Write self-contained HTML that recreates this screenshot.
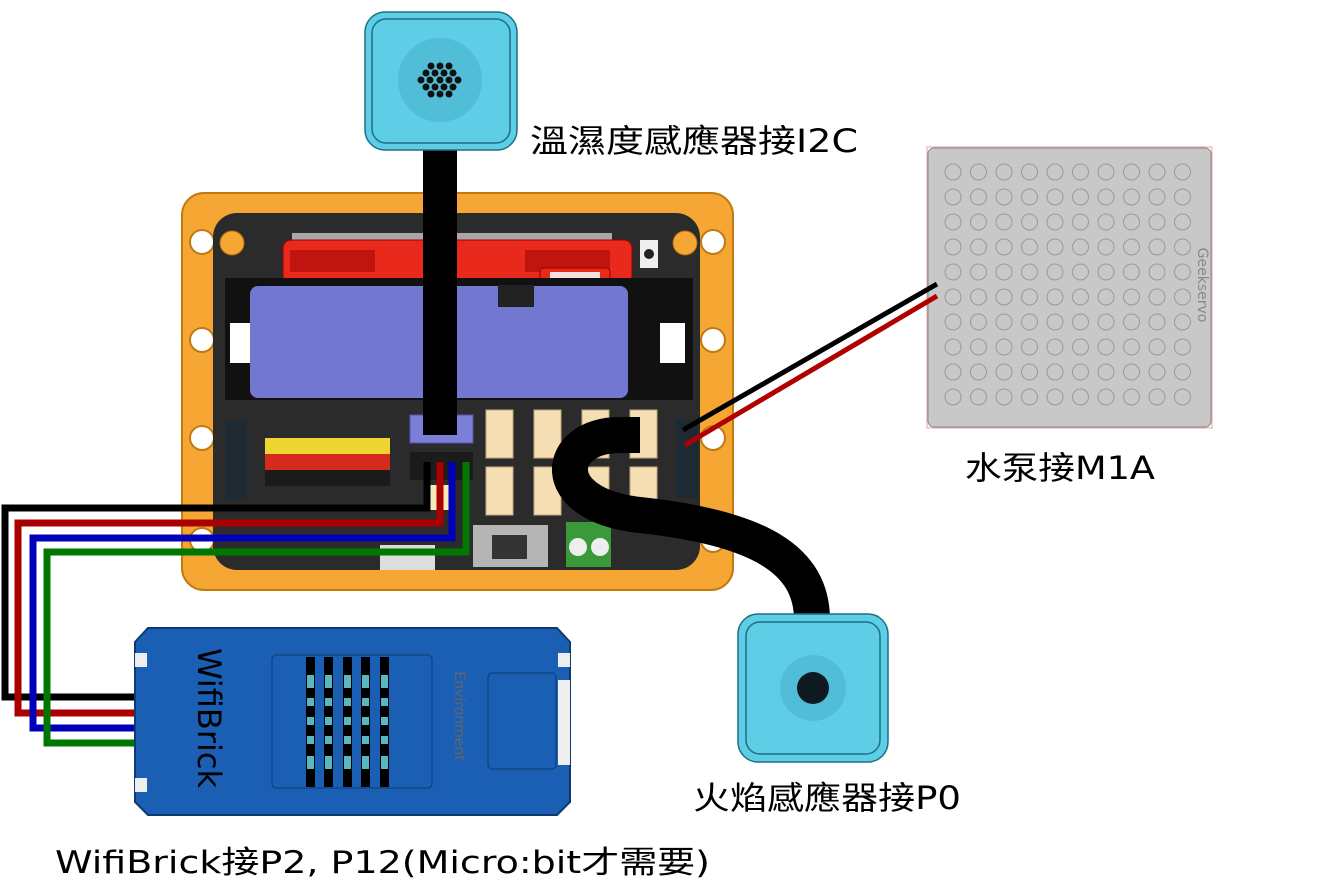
<!DOCTYPE html>
<html><head><meta charset="utf-8"><style>
html,body{margin:0;padding:0;background:#fff;}
svg{display:block;}
text{font-family:"DejaVu Sans","Liberation Sans","Noto Sans CJK TC",sans-serif;}
</style></head><body>
<svg width="1336" height="883" viewBox="0 0 1336 883" xmlns="http://www.w3.org/2000/svg">
<defs>
<pattern id="dots" x="940" y="159" width="25.5" height="25" patternUnits="userSpaceOnUse">
<circle cx="13" cy="13" r="8" fill="none" stroke="#999" stroke-width="1"/>
</pattern>
</defs>

<rect x="182" y="193" width="551" height="397" rx="22" fill="#f6a733" stroke="#c27a10" stroke-width="2"/>
<g fill="#fff" stroke="#c27a10" stroke-width="2">
<circle cx="202" cy="242" r="12"/><circle cx="202" cy="340" r="12"/><circle cx="202" cy="438" r="12"/><circle cx="202" cy="540" r="12"/>
<circle cx="713" cy="242" r="12"/><circle cx="713" cy="340" r="12"/><circle cx="713" cy="438" r="12"/><circle cx="713" cy="540" r="12"/>
</g>
<rect x="213" y="213" width="487" height="357" rx="24" fill="#2b2b2b"/>
<circle cx="232" cy="243" r="12" fill="#f6a733" stroke="#b06f10"/>
<circle cx="685" cy="243" r="12" fill="#f6a733" stroke="#b06f10"/>
<rect x="292" y="233" width="320" height="8" fill="#ddd" opacity="0.7"/>
<rect x="283" y="240" width="349" height="43" rx="8" fill="#e8291c" stroke="#900" stroke-width="1"/>
<rect x="290" y="250" width="85" height="22" fill="#c0150e"/>
<rect x="525" y="250" width="85" height="22" fill="#c0150e"/>
<rect x="540" y="268" width="70" height="42" rx="4" fill="#e8291c" stroke="#900"/>
<rect x="550" y="272" width="50" height="28" fill="#f4e0e0"/>
<rect x="640" y="240" width="18" height="28" fill="#eee"/><circle cx="649" cy="254" r="5" fill="#222"/>
<rect x="225" y="278" width="468" height="122" fill="#111"/>
<rect x="230" y="323" width="25" height="40" fill="#fff"/>
<rect x="660" y="323" width="25" height="40" fill="#fff"/>
<rect x="250" y="286" width="378" height="112" rx="8" fill="#7277d0"/>
<rect x="498" y="285" width="36" height="22" fill="#222"/>
<rect x="225" y="420" width="22" height="80" fill="#1e2a33"/>
<rect x="265" y="438" width="125" height="16" fill="#f0d430"/>
<rect x="265" y="454" width="125" height="16" fill="#d62a1e"/>
<rect x="265" y="470" width="125" height="16" fill="#1b1b1b"/>
<rect x="410" y="415" width="63" height="28" fill="#7b7fd8" stroke="#5055b0"/>
<rect x="410" y="452" width="63" height="28" fill="#1b1b1b"/>
<rect x="425" y="485" width="30" height="25" fill="#f6eab8"/>
<g fill="#f5ddb4" stroke="#c9a97a">
<rect x="486" y="410" width="27" height="48"/><rect x="534" y="410" width="27" height="48"/><rect x="582" y="410" width="27" height="48"/><rect x="630" y="410" width="27" height="48"/>
<rect x="486" y="467" width="27" height="48"/><rect x="534" y="467" width="27" height="48"/><rect x="582" y="467" width="27" height="48"/><rect x="630" y="467" width="27" height="48"/>
</g>
<rect x="676" y="420" width="22" height="78" fill="#1e2a33"/>
<rect x="473" y="525" width="75" height="42" fill="#b5b5b5"/>
<rect x="492" y="535" width="35" height="24" fill="#333"/>
<rect x="566" y="522" width="45" height="45" fill="#3a9a3a"/>
<circle cx="578" cy="547" r="9" fill="#eee"/><circle cx="600" cy="547" r="9" fill="#eee"/>
<rect x="380" y="545" width="55" height="25" fill="#ddd"/>

<rect x="423" y="140" width="34" height="295" fill="#000"/>
<rect x="365" y="12" width="152" height="138" rx="20" fill="#5ecde6" stroke="#1f6f84" stroke-width="1.5"/>
<rect x="372" y="19" width="138" height="124" rx="14" fill="none" stroke="#1f6f84" stroke-width="1.5"/>
<circle cx="440" cy="80" r="42" fill="#52bdd6"/>
<g fill="#111">
<circle cx="431" cy="66" r="3.5"/><circle cx="440" cy="66" r="3.5"/><circle cx="449" cy="66" r="3.5"/>
<circle cx="426" cy="73" r="3.5"/><circle cx="435" cy="73" r="3.5"/><circle cx="444" cy="73" r="3.5"/><circle cx="453" cy="73" r="3.5"/>
<circle cx="421" cy="80" r="3.5"/><circle cx="430" cy="80" r="3.5"/><circle cx="440" cy="80" r="3.5"/><circle cx="449" cy="80" r="3.5"/><circle cx="458" cy="80" r="3.5"/>
<circle cx="426" cy="87" r="3.5"/><circle cx="435" cy="87" r="3.5"/><circle cx="444" cy="87" r="3.5"/><circle cx="453" cy="87" r="3.5"/>
<circle cx="431" cy="94" r="3.5"/><circle cx="440" cy="94" r="3.5"/><circle cx="449" cy="94" r="3.5"/>
</g>
<text x="530" y="152" font-size="32" fill="#000" textLength="328" lengthAdjust="spacingAndGlyphs">溫濕度感應器接I2C</text>

<rect x="927" y="147" width="285" height="281" fill="none" stroke="#e8a0a0"/>
<rect x="928" y="148" width="283" height="279" rx="6" fill="#c8c8c8" stroke="#888"/>
<rect x="940" y="159" width="255" height="250" fill="url(#dots)"/>
<text x="1198" y="285" font-size="14" fill="#888" transform="rotate(90 1198 285)" text-anchor="middle">Geekservo</text>
<line x1="937" y1="284" x2="683" y2="430" stroke="#000" stroke-width="5"/>
<line x1="937" y1="296" x2="685" y2="445" stroke="#b00000" stroke-width="5"/>
<text x="965" y="479" font-size="32" fill="#000" textLength="190" lengthAdjust="spacingAndGlyphs">水泵接M1A</text>

<path d="M640,435 L620,435 C555,435 545,505 640,515 C760,528 812,560 812,620" fill="none" stroke="#000" stroke-width="36"/>
<rect x="738" y="614" width="150" height="148" rx="20" fill="#5ecde6" stroke="#1f6f84" stroke-width="1.5"/>
<rect x="746" y="622" width="134" height="132" rx="14" fill="none" stroke="#1f6f84" stroke-width="1.5"/>
<circle cx="813" cy="688" r="33" fill="#52bdd6"/>
<circle cx="813" cy="688" r="16" fill="#0e1a22"/>
<text x="693" y="809" font-size="32" fill="#000" textLength="268" lengthAdjust="spacingAndGlyphs">火焰感應器接P0</text>

<polyline points="427,462 427,508 5,508 5,697 135,697" fill="none" stroke="#000" stroke-width="7"/>
<polyline points="440,462 440,523 18,523 18,713 135,713" fill="none" stroke="#aa0000" stroke-width="7"/>
<polyline points="452,462 452,538 33,538 33,728 135,728" fill="none" stroke="#0000bb" stroke-width="7"/>
<polyline points="466,462 466,552 47,552 47,743 135,743" fill="none" stroke="#007700" stroke-width="7"/>

<path d="M148,628 L557,628 L570,642 L570,802 L557,815 L148,815 L135,802 L135,642 Z" fill="#1a5fb4" stroke="#0d3a70" stroke-width="2"/>
<rect x="135" y="653" width="12" height="14" fill="#eee"/>
<rect x="135" y="778" width="12" height="14" fill="#eee"/>
<rect x="558" y="653" width="12" height="14" fill="#eee"/>
<rect x="558" y="680" width="12" height="85" fill="#eee"/>
<rect x="272" y="655" width="160" height="133" rx="4" fill="none" stroke="#0d3a70"/>
<rect x="488" y="673" width="68" height="96" rx="4" fill="none" stroke="#0d3a70"/>
<g fill="#000">
<rect x="306" y="657" width="9" height="130"/><rect x="324" y="657" width="9" height="130"/><rect x="343" y="657" width="9" height="130"/><rect x="361" y="657" width="9" height="130"/><rect x="380" y="657" width="9" height="130"/>
</g>
<g fill="#5ab7c0">
<rect x="307" y="675" width="7" height="13"/><rect x="325" y="675" width="7" height="13"/><rect x="344" y="675" width="7" height="13"/><rect x="362" y="675" width="7" height="13"/><rect x="381" y="675" width="7" height="13"/>
<rect x="307" y="698" width="7" height="8"/><rect x="325" y="698" width="7" height="8"/><rect x="344" y="698" width="7" height="8"/><rect x="362" y="698" width="7" height="8"/><rect x="381" y="698" width="7" height="8"/>
<rect x="307" y="717" width="7" height="8"/><rect x="325" y="717" width="7" height="8"/><rect x="344" y="717" width="7" height="8"/><rect x="362" y="717" width="7" height="8"/><rect x="381" y="717" width="7" height="8"/>
<rect x="307" y="736" width="7" height="8"/><rect x="325" y="736" width="7" height="8"/><rect x="344" y="736" width="7" height="8"/><rect x="362" y="736" width="7" height="8"/><rect x="381" y="736" width="7" height="8"/>
<rect x="307" y="756" width="7" height="13"/><rect x="325" y="756" width="7" height="13"/><rect x="344" y="756" width="7" height="13"/><rect x="362" y="756" width="7" height="13"/><rect x="381" y="756" width="7" height="13"/>
</g>
<text x="198" y="718" font-size="32" fill="#000" transform="rotate(90 198 718)" text-anchor="middle">WifiBrick</text>
<text x="455" y="716" font-size="14" fill="#666" transform="rotate(90 455 716)" text-anchor="middle">Environment</text>

<text x="55" y="873" font-size="31" fill="#000" textLength="655" lengthAdjust="spacingAndGlyphs">WifiBrick接P2, P12(Micro:bit才需要)</text>
</svg>
</body></html>
